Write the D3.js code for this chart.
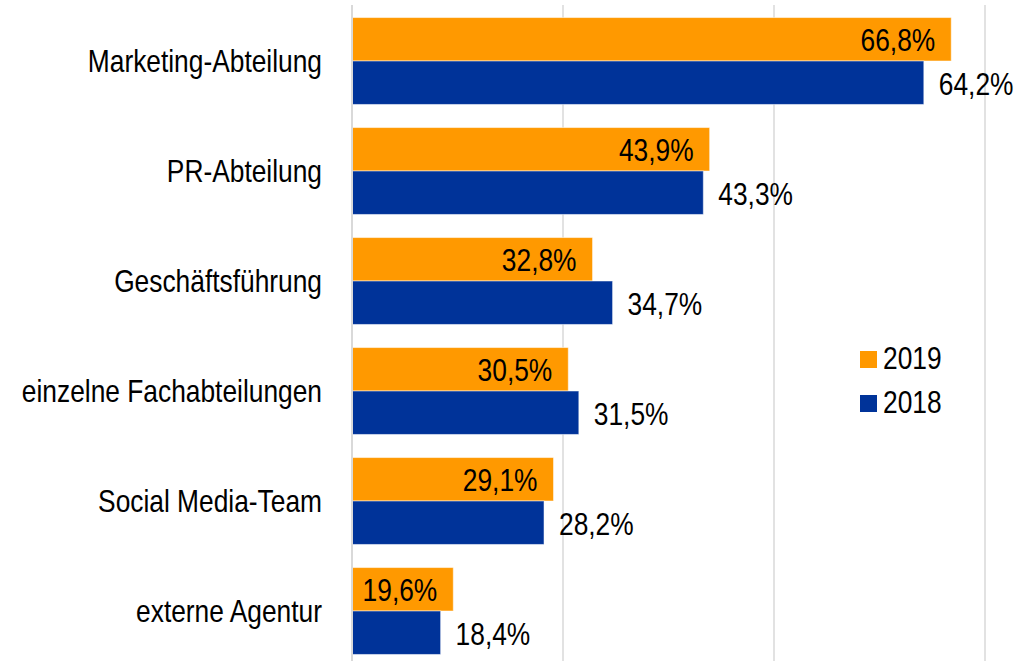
<!DOCTYPE html>
<html>
<head>
<meta charset="utf-8">
<script src="https://cdn.jsdelivr.net/npm/d3@7"></script>
<style>
  body { margin: 0; background: #fff; }
  text { font-family: "Liberation Sans", Arial, sans-serif; fill: #000; font-size: 31px; }
</style>
</head>
<body>
<div id="chart"></div>
<script>
// data
const categories = ["Marketing-Abteilung", "PR-Abteilung", "Geschäftsführung",
  "einzelne Fachabteilungen", "Social Media-Team", "externe Agentur"];
const seriesNames = ["2019", "2018"];
const values2019 = [66.8, 43.9, 32.8, 30.5, 29.1, 19.6];
const values2018 = [64.2, 43.3, 34.7, 31.5, 28.2, 18.4];
const gridTicks = [30, 50, 70];

const width = 1025, height = 661;
const colors = { "2019": "#ff9900", "2018": "#003399" };
const narrow = 0.85; // squeeze Liberation Sans to look like Arial Narrow

const rows = categories.map((c, i) => ({ cat: c, "2019": values2019[i], "2018": values2018[i] }));

const svg = d3.select("#chart").append("svg")
  .attr("width", width)
  .attr("height", height);

// axis starts at 10 %
const x = d3.scaleLinear().domain([10, 70]).range([352, 985]);

const y = d3.scaleBand()
  .domain(categories)
  .range([6, 666])
  .paddingInner(0.21)
  .paddingOuter(0.105);

const ySub = d3.scaleBand()
  .domain(seriesNames)
  .range([0, y.bandwidth()]);

const place = (px, py) => `translate(${px},${py}) scale(${narrow},1)`;

// gridlines
svg.append("g").selectAll("line")
  .data(gridTicks)
  .join("line")
  .attr("x1", d => x(d)).attr("x2", d => x(d))
  .attr("y1", 5).attr("y2", height)
  .attr("stroke", "#d9d9d9")
  .attr("stroke-width", 1.5);

// bars
const groups = svg.append("g").selectAll("g")
  .data(rows)
  .join("g")
  .attr("transform", d => `translate(0,${y(d.cat)})`);

groups.selectAll("rect")
  .data(d => seriesNames.map(s => ({ key: s, value: d[s] })))
  .join("rect")
  .attr("x", x(10))
  .attr("y", d => ySub(d.key))
  .attr("width", d => x(d.value) - x(10))
  .attr("height", ySub.bandwidth())
  .attr("fill", d => colors[d.key])
  .attr("stroke", "#ffffff")
  .attr("stroke-opacity", 0.5)
  .attr("stroke-width", 1);

// value labels: 2019 inside end, 2018 outside end
groups.selectAll("text.val")
  .data(d => seriesNames.map(s => ({ key: s, value: d[s] })))
  .join("text")
  .attr("class", "val")
  .attr("transform", d => d.key === "2019"
    ? place(x(d.value) - 16, ySub(d.key) + ySub.bandwidth() / 2 + 11.5)
    : place(x(d.value) + 15, ySub(d.key) + ySub.bandwidth() / 2 + 12.5))
  .attr("text-anchor", d => d.key === "2019" ? "end" : "start")
  .text(d => d.value.toFixed(1).replace(".", ",") + "%");

// category labels
svg.append("g").selectAll("text")
  .data(categories)
  .join("text")
  .attr("transform", d => place(322, y(d) + y.bandwidth() / 2 + 10.5))
  .attr("text-anchor", "end")
  .text(d => d);

// y axis line
svg.append("line")
  .attr("x1", x(10)).attr("x2", x(10))
  .attr("y1", 5).attr("y2", height)
  .attr("stroke", "#d9d9d9")
  .attr("stroke-width", 2);

// legend
const legend = svg.append("g").selectAll("g")
  .data(seriesNames)
  .join("g")
  .attr("transform", (d, i) => `translate(860,${351 + i * 44})`);

legend.append("rect")
  .attr("width", 17).attr("height", 17)
  .attr("fill", d => colors[d]);

legend.append("text")
  .attr("transform", place(23, 18))
  .text(d => d);
</script>
</body>
</html>
